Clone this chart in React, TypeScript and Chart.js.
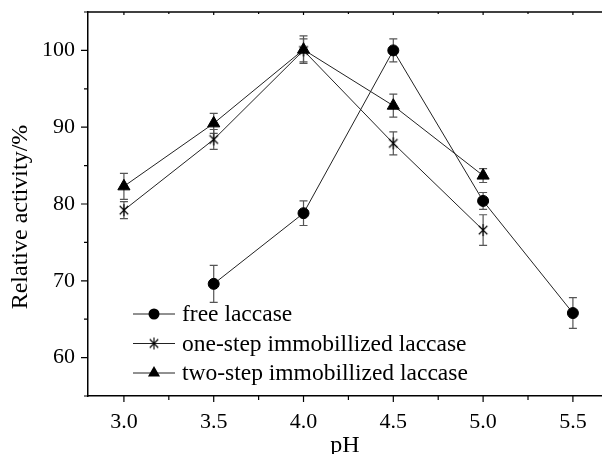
import React, { useEffect, useRef } from "react";
import { Chart, registerables } from "chart.js";

Chart.register(...registerables);

// pH values and relative activity (%) with standard deviations
const PH_FREE = [3.5, 4.0, 4.5, 5.0, 5.5];
const FREE = [69.6, 78.8, 100.0, 80.4, 65.8];
const FREE_ERR = [2.4, 1.6, 1.5, 1.1, 2.0];

const PH_IMMOB = [3.0, 3.5, 4.0, 4.5, 5.0];
const ONE_STEP = [79.2, 88.4, 100.0, 87.9, 76.6];
const ONE_STEP_ERR = [1.1, 1.3, 1.5, 1.5, 2.0];
const TWO_STEP = [82.3, 90.5, 100.1, 92.8, 83.7];
const TWO_STEP_ERR = [1.7, 1.3, 1.8, 1.5, 0.9];

const SERIES_NAMES = [
  "free laccase",
  "one-step immobillized laccase",
  "two-step immobillized laccase",
];

const X_TITLE = "pH";
const Y_TITLE = "Relative activity/%";

const X_TICKS = [3.0, 3.5, 4.0, 4.5, 5.0, 5.5];
const X_MINOR = [2.75, 3.25, 3.75, 4.25, 4.75, 5.25];
const Y_TICKS = [60, 70, 80, 90, 100];
const Y_MINOR = [55, 65, 75, 85, 95, 105];

const FONT = '"Liberation Serif", "Times New Roman", serif';

// six-armed asterisk marker
function makeAsterisk(r: number): HTMLCanvasElement {
  const size = Math.ceil(r * 2 + 2);
  const c = document.createElement("canvas");
  c.width = size;
  c.height = size;
  const ctx = c.getContext("2d")!;
  const m = size / 2;
  ctx.strokeStyle = "#000";
  ctx.lineWidth = 1.1;
  ctx.beginPath();
  ctx.moveTo(m, m - r);
  ctx.lineTo(m, m + r);
  const d = r * Math.SQRT1_2;
  ctx.moveTo(m - d, m - d);
  ctx.lineTo(m + d, m + d);
  ctx.moveTo(m - d, m + d);
  ctx.lineTo(m + d, m - d);
  ctx.stroke();
  return c;
}

function drawMarker(ctx: CanvasRenderingContext2D, style: any, x: number, y: number, r: number) {
  ctx.save();
  ctx.fillStyle = "#000";
  if (style === "circle") {
    ctx.beginPath();
    ctx.arc(x, y, r, 0, Math.PI * 2);
    ctx.fill();
  } else if (style === "triangle") {
    ctx.beginPath();
    for (let k = 0; k < 3; k++) {
      const a = (k * 2 * Math.PI) / 3;
      const px = x + Math.sin(a) * r;
      const py = y - Math.cos(a) * r;
      if (k === 0) ctx.moveTo(px, py);
      else ctx.lineTo(px, py);
    }
    ctx.closePath();
    ctx.fill();
  } else if (style instanceof HTMLCanvasElement) {
    ctx.drawImage(style, x - style.width / 2, y - style.height / 2);
  }
  ctx.restore();
}

const errorBars = {
  id: "errorBars",
  beforeDatasetsDraw(chart: any) {
    const ctx = chart.ctx;
    const ys = chart.scales.y;
    ctx.save();
    ctx.strokeStyle = "#555";
    ctx.lineWidth = 1.2;
    chart.data.datasets.forEach((ds: any, i: number) => {
      const meta = chart.getDatasetMeta(i);
      meta.data.forEach((pt: any, j: number) => {
        const v = ds.data[j].y;
        const e = ds.errors[j];
        const yTop = ys.getPixelForValue(v + e);
        const yBot = ys.getPixelForValue(v - e);
        const x = pt.x;
        ctx.beginPath();
        ctx.moveTo(x, yTop);
        ctx.lineTo(x, yBot);
        ctx.moveTo(x - 4, yTop);
        ctx.lineTo(x + 4, yTop);
        ctx.moveTo(x - 4, yBot);
        ctx.lineTo(x + 4, yBot);
        ctx.stroke();
      });
    });
    ctx.restore();
  },
};

const frame = {
  id: "frame",
  afterDraw(chart: any) {
    const ctx = chart.ctx;
    const { left, right, top, bottom } = chart.chartArea;
    const xs = chart.scales.x;
    const ys = chart.scales.y;
    ctx.save();
    ctx.strokeStyle = "#000";
    ctx.lineWidth = 1.5;
    // top border
    ctx.beginPath();
    ctx.moveTo(left, top);
    ctx.lineTo(right, top);
    ctx.stroke();
    ctx.lineWidth = 1.2;
    ctx.beginPath();
    // left axis ticks (outward)
    Y_TICKS.forEach((v) => {
      const y = ys.getPixelForValue(v);
      ctx.moveTo(left - 7, y);
      ctx.lineTo(left, y);
    });
    Y_MINOR.forEach((v) => {
      const y = ys.getPixelForValue(v);
      if (y < top - 0.5 || y > bottom + 0.5) return;
      ctx.moveTo(left - 4, y);
      ctx.lineTo(left, y);
    });
    // bottom axis ticks (outward)
    X_TICKS.forEach((v) => {
      const x = xs.getPixelForValue(v);
      ctx.moveTo(x, bottom);
      ctx.lineTo(x, bottom + 6);
    });
    X_MINOR.forEach((v) => {
      const x = xs.getPixelForValue(v);
      if (x < left || x > right) return;
      ctx.moveTo(x, bottom);
      ctx.lineTo(x, bottom + 4);
    });
    // top axis ticks (small, inward)
    X_TICKS.forEach((v) => {
      const x = xs.getPixelForValue(v);
      ctx.moveTo(x, top);
      ctx.lineTo(x, top + 3);
    });
    X_MINOR.forEach((v) => {
      const x = xs.getPixelForValue(v);
      if (x < left || x > right) return;
      ctx.moveTo(x, top);
      ctx.lineTo(x, top + 2);
    });
    ctx.stroke();

    // axis titles
    ctx.fillStyle = "#000";
    ctx.font = `24px ${FONT}`;
    ctx.textAlign = "center";
    ctx.textBaseline = "alphabetic";
    ctx.fillText(X_TITLE, (left + right) / 2, bottom + 56);
    ctx.save();
    ctx.translate(left - 61, (top + bottom) / 2 + 13);
    ctx.rotate(-Math.PI / 2);
    ctx.fillText(Y_TITLE, 0, 0);
    ctx.restore();

    // legend inside the plot, lower left
    ctx.font = `23.5px ${FONT}`;
    ctx.textAlign = "left";
    ctx.textBaseline = "middle";
    chart.data.datasets.forEach((ds: any, i: number) => {
      const y = bottom - 82 + i * 29.5;
      const x0 = left + 45;
      ctx.strokeStyle = "#222";
      ctx.lineWidth = 1;
      ctx.beginPath();
      ctx.moveTo(x0, y);
      ctx.lineTo(x0 + 42, y);
      ctx.stroke();
      drawMarker(ctx, ds.pointStyle, x0 + 21, y, ds.pointRadius);
      ctx.fillStyle = "#000";
      ctx.fillText(ds.label, x0 + 49, y + 1);
    });
    ctx.restore();
  },
};

export default function App() {
  const ref = useRef<HTMLCanvasElement>(null);

  useEffect(() => {
    if (!ref.current) return;
    const asterisk = makeAsterisk(6);
    const chart = new Chart(ref.current, {
      type: "line",
      data: {
        datasets: [
          {
            label: SERIES_NAMES[0],
            data: PH_FREE.map((x, i) => ({ x, y: FREE[i] })),
            errors: FREE_ERR,
            pointStyle: "circle",
            pointRadius: 5.5,
            borderColor: "#222",
            backgroundColor: "#000",
            pointBorderColor: "#000",
            borderWidth: 1,
          } as any,
          {
            label: SERIES_NAMES[1],
            data: PH_IMMOB.map((x, i) => ({ x, y: ONE_STEP[i] })),
            errors: ONE_STEP_ERR,
            pointStyle: asterisk,
            pointRadius: 6,
            borderColor: "#222",
            backgroundColor: "#000",
            pointBorderColor: "#000",
            borderWidth: 1,
          } as any,
          {
            label: SERIES_NAMES[2],
            data: PH_IMMOB.map((x, i) => ({ x, y: TWO_STEP[i] })),
            errors: TWO_STEP_ERR,
            pointStyle: "triangle",
            pointRadius: 7,
            borderColor: "#222",
            backgroundColor: "#000",
            pointBorderColor: "#000",
            borderWidth: 1,
          } as any,
        ],
      },
      options: {
        animation: false,
        responsive: false,
        maintainAspectRatio: false,
        layout: { padding: { top: 12, right: 0, left: 0, bottom: 0 }, autoPadding: false },
        plugins: { legend: { display: false }, tooltip: { enabled: false } },
        scales: {
          x: {
            type: "linear",
            min: 2.8,
            max: 5.662,
            grid: { display: false, drawTicks: false },
            border: { display: true, color: "#000", width: 1.5 },
            afterBuildTicks: (s: any) => {
              s.ticks = X_TICKS.map((v) => ({ value: v }));
            },
            afterFit: (s: any) => {
              s.height = 58;
              s.paddingLeft = 0;
              s.paddingRight = 0;
              s.paddingTop = 0;
              s.paddingBottom = 0;
            },
            ticks: {
              color: "#000",
              padding: 13,
              font: { family: FONT, size: 22 },
              maxRotation: 0,
              autoSkip: false,
              callback: (v: any) => Number(v).toFixed(1),
            },
          },
          y: {
            type: "linear",
            min: 55,
            max: 105,
            grid: { display: false, drawTicks: false },
            border: { display: true, color: "#000", width: 1.5 },
            afterBuildTicks: (s: any) => {
              s.ticks = Y_TICKS.map((v) => ({ value: v }));
            },
            afterFit: (s: any) => {
              s.width = 88;
              s.paddingLeft = 0;
              s.paddingRight = 0;
              s.paddingTop = 0;
              s.paddingBottom = 0;
            },
            ticks: {
              color: "#000",
              padding: 13,
              font: { family: FONT, size: 22 },
              autoSkip: false,
            },
          },
        },
      },
      plugins: [errorBars, frame],
    });
    return () => chart.destroy();
  }, []);

  return (
    <div style={{ position: "fixed", left: 0, top: 0, width: 602, height: 454, background: "#fff" }}>
      <canvas ref={ref} width={602} height={454} style={{ display: "block", width: 602, height: 454 }} />
    </div>
  );
}
